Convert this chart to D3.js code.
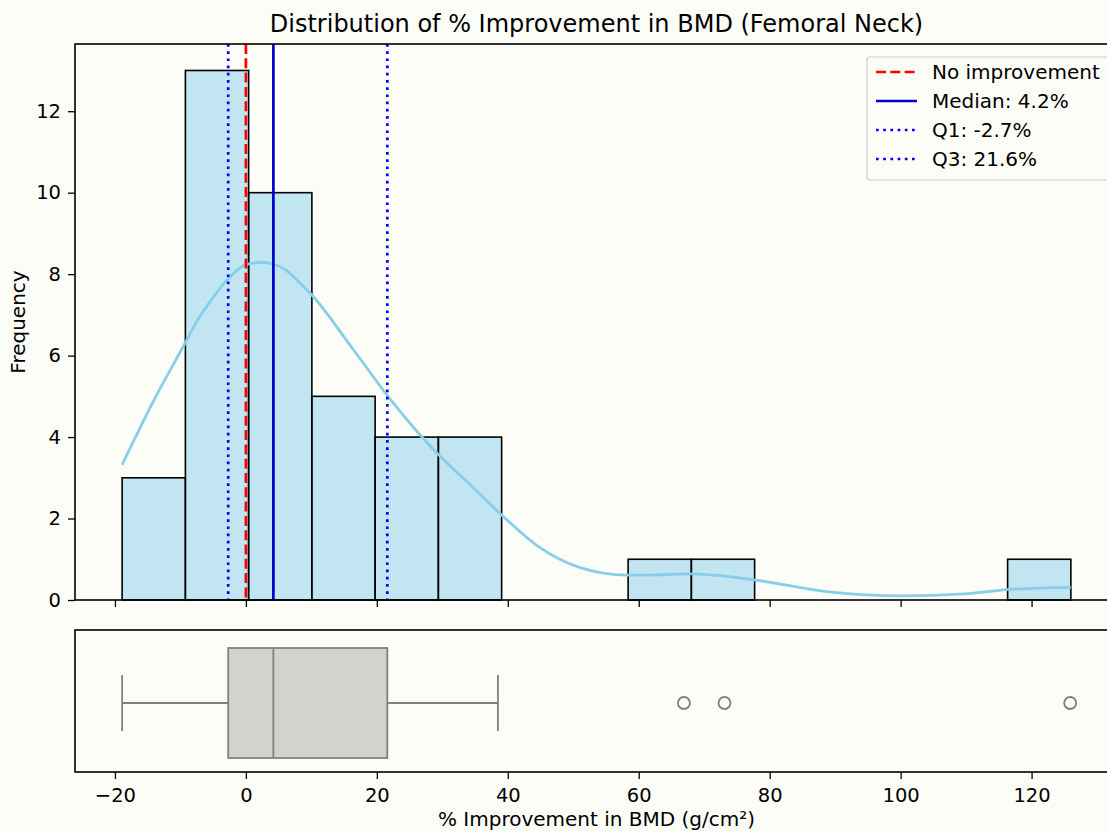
<!DOCTYPE html>
<html><head><meta charset="utf-8">
<script src="https://cdn.jsdelivr.net/npm/d3@7"></script>
<style>
html,body{margin:0;padding:0;background:#fdfdf8;}
svg{display:block;font-family:"DejaVu Sans",sans-serif;}
</style></head>
<body><svg id="c" width="1107" height="832"></svg>
<script>
// ---- data ----
const binEdges = [-18.9,-9.24,0.42,10.08,19.74,29.4,39.06,48.72,58.38,68.04,77.7,87.36,97.02,106.68,116.34,126.0];
const binCounts = [3,13,10,5,4,4,0,0,1,1,0,0,0,0,1];
const kdeX = [-18.9,-14,-9.1,-7.5,-5.5,-2.7,0.1,2.65,6,8.2,10.0,16.4,21.7,29.4,34,39.3,44.7,50.6,58.3,63,68.0,77.8,89.0,100.2,109.7,116.8,126.0];
const kdeY = [3.32,4.92,6.36,6.84,7.32,7.89,8.24,8.29,8.11,7.79,7.50,6.15,5.0,3.57,2.87,2.05,1.31,0.82,0.61,0.62,0.64,0.49,0.20,0.10,0.15,0.26,0.31];
const boxStats = {whiskerLow:-18.9, q1:-2.7, median:4.2, q3:21.6, whiskerHigh:38.5};
const outliers = [66.9,73.1,125.9];
const xTicks = [-20,0,20,40,60,80,100,120];
const yTicks = [0,2,4,6,8,10,12];
const refLines = [
  {label:"No improvement", value:0, color:"#ff0000", dash:"10,4.3", width:2.7},
  {label:"Median: 4.2%", value:4.2, color:"#0000cd", dash:null, width:2.7},
  {label:"Q1: -2.7%", value:-2.7, color:"#0000ff", dash:"2.7,4.5", width:2.7},
  {label:"Q3: 21.6%", value:21.6, color:"#0000ff", dash:"2.7,4.5", width:2.7}
];

const svg = d3.select("#c");
const L=75, R=1118, T=44, B=600, BT=630, BB=772;
const x = d3.scaleLinear().domain([-26.1,133.2]).range([L,R]);
const y = d3.scaleLinear().domain([0,13.65]).range([B,T]);
const fs = 20, tfs = 19.5;

svg.append("rect").attr("width",1107).attr("height",832).attr("fill","#fdfdf8");

// title
svg.append("text").attr("x",(L+R)/2).attr("y",32).attr("text-anchor","middle")
  .attr("font-size",24).attr("fill","#000").text("Distribution of % Improvement in BMD (Femoral Neck)");

// histogram
const bins = binCounts.map((c,i)=>({x0:binEdges[i],x1:binEdges[i+1],c}));
svg.append("g").selectAll("rect").data(bins.filter(d=>d.c>0)).join("rect")
  .attr("x",d=>x(d.x0)).attr("width",d=>x(d.x1)-x(d.x0))
  .attr("y",d=>y(d.c)).attr("height",d=>y(0)-y(d.c))
  .attr("fill","rgba(135,206,235,0.5)").attr("stroke","#000").attr("stroke-width",1.6);

// kde
const kde = kdeX.map((v,i)=>[v,kdeY[i]]);
svg.append("path").datum(kde).attr("fill","none").attr("stroke","#87ceeb").attr("stroke-width",2.8)
  .attr("d",d3.line().x(d=>x(d[0])).y(d=>y(d[1])).curve(d3.curveMonotoneX));

// ref lines
refLines.forEach(r=>{
  svg.append("line").attr("x1",x(r.value)).attr("x2",x(r.value)).attr("y1",T).attr("y2",B)
    .attr("stroke",r.color).attr("stroke-width",r.width).attr("stroke-dasharray",r.dash);
});

// axes main
const gx = svg.append("g").attr("transform",`translate(0,${B})`)
  .call(d3.axisBottom(x).tickValues(xTicks).tickSize(7).tickFormat(""));
gx.select(".domain").remove();
gx.selectAll("line").attr("stroke","#000").attr("stroke-width",1.3);
const gy = svg.append("g").attr("transform",`translate(${L},0)`)
  .call(d3.axisLeft(y).tickValues(yTicks).tickSize(7).tickPadding(7));
gy.select(".domain").remove();
gy.selectAll("line").attr("stroke","#000").attr("stroke-width",1.3);
gy.selectAll("text").attr("font-size",tfs).attr("font-family","DejaVu Sans").attr("fill","#000");
svg.append("rect").attr("x",L).attr("y",T).attr("width",R-L).attr("height",B-T)
  .attr("fill","none").attr("stroke","#000").attr("stroke-width",1.6);

svg.append("text").attr("transform",`translate(25,${(T+B)/2}) rotate(-90)`).attr("text-anchor","middle")
  .attr("font-size",fs).text("Frequency");

// legend
const lg = svg.append("g");
lg.append("rect").attr("x",867).attr("y",57).attr("width",260).attr("height",123).attr("rx",3)
  .attr("fill","#fdfdf8").attr("fill-opacity",0.8).attr("stroke","#cccccc").attr("stroke-width",1.2);
refLines.forEach((r,i)=>{
  const yy = 72 + i*29;
  lg.append("line").attr("x1",876).attr("x2",917).attr("y1",yy).attr("y2",yy)
    .attr("stroke",r.color).attr("stroke-width",r.width).attr("stroke-dasharray",r.dash);
  lg.append("text").attr("x",932).attr("y",yy+7).attr("font-size",fs).text(r.label);
});

// box plot panel
const cy = 703;
const bg = svg.append("g");
bg.append("line").attr("x1",x(boxStats.whiskerLow)).attr("x2",x(boxStats.q1)).attr("y1",cy).attr("y2",cy).attr("stroke","#808080").attr("stroke-width",1.8);
bg.append("line").attr("x1",x(boxStats.q3)).attr("x2",x(boxStats.whiskerHigh)).attr("y1",cy).attr("y2",cy).attr("stroke","#808080").attr("stroke-width",1.8);
[boxStats.whiskerLow,boxStats.whiskerHigh].forEach(v=>{
  bg.append("line").attr("x1",x(v)).attr("x2",x(v)).attr("y1",675).attr("y2",731).attr("stroke","#808080").attr("stroke-width",1.8);
});
bg.append("rect").attr("x",x(boxStats.q1)).attr("width",x(boxStats.q3)-x(boxStats.q1)).attr("y",648).attr("height",110)
  .attr("fill","#d3d2cd").attr("stroke","#808080").attr("stroke-width",1.8);
bg.append("line").attr("x1",x(boxStats.median)).attr("x2",x(boxStats.median)).attr("y1",648).attr("y2",758).attr("stroke","#808080").attr("stroke-width",1.8);
bg.selectAll("circle").data(outliers).join("circle").attr("cx",d=>x(d)).attr("cy",cy).attr("r",6)
  .attr("fill","none").attr("stroke","#808080").attr("stroke-width",1.8);

const gx2 = svg.append("g").attr("transform",`translate(0,${BB})`)
  .call(d3.axisBottom(x).tickValues(xTicks).tickSize(7).tickPadding(9).tickFormat(d=>d<0?"\u2212"+Math.abs(d):d));
gx2.select(".domain").remove();
gx2.selectAll("line").attr("stroke","#000").attr("stroke-width",1.3);
gx2.selectAll("text").attr("font-size",tfs).attr("font-family","DejaVu Sans").attr("fill","#000");
svg.append("rect").attr("x",L).attr("y",BT).attr("width",R-L).attr("height",BB-BT)
  .attr("fill","none").attr("stroke","#000").attr("stroke-width",1.6);

svg.append("text").attr("x",(L+R)/2).attr("y",826).attr("text-anchor","middle").attr("font-size",fs)
  .text("% Improvement in BMD (g/cm\u00b2)");
</script></body></html>
